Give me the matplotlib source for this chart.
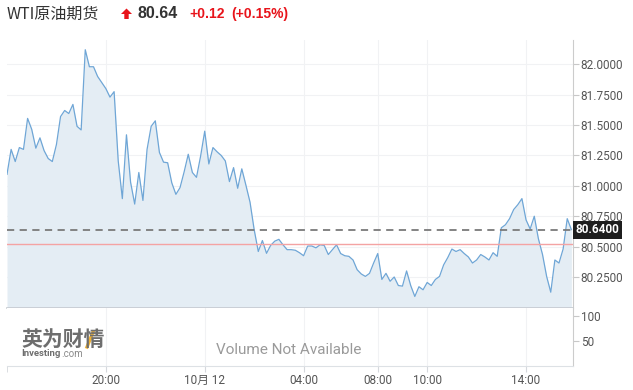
import matplotlib
matplotlib.use("Agg")
import matplotlib.pyplot as plt
import matplotlib.transforms as mtransforms
from matplotlib.patches import Polygon
from matplotlib.lines import Line2D
import numpy as np

# WTI 10-minute quotes, 16:00 -> 15:50 (trading time, 05:00-06:00 break skipped)
prices = [
    81.095, 81.30, 81.20, 81.315, 81.30, 81.555, 81.465, 81.31, 81.395, 81.29,
    81.225, 81.20, 81.34, 81.57, 81.62, 81.595, 81.67, 81.49, 81.46, 82.12,
    81.98, 81.98, 81.90, 81.85, 81.80, 81.73, 81.775, 81.205, 80.895, 81.42,
    81.03, 80.85, 81.11, 80.88, 81.30, 81.49, 81.535, 81.275, 81.195, 81.19,
    81.025, 80.93, 80.985, 81.115, 81.26, 81.11, 81.07, 81.245, 81.45, 81.18,
    81.315, 81.28, 81.25, 81.205, 81.035, 81.15, 80.98, 81.14, 81.005, 80.865,
    80.64, 80.46, 80.55, 80.445, 80.51, 80.545, 80.56, 80.515, 80.475, 80.475,
    80.47, 80.45, 80.425, 80.505, 80.505, 80.49, 80.515, 80.51, 80.435, 80.475,
    80.515, 80.443, 80.425, 80.42, 80.39, 80.31, 80.275, 80.255, 80.28, 80.365,
    80.443, 80.23, 80.28, 80.215, 80.25, 80.18, 80.175, 80.30, 80.18, 80.09,
    80.17, 80.145, 80.205, 80.18, 80.23, 80.255, 80.35, 80.41, 80.48, 80.46,
    80.475, 80.443, 80.415, 80.365, 80.39, 80.435, 80.415, 80.39, 80.45, 80.42,
    80.655, 80.68, 80.73, 80.805, 80.845, 80.895, 80.72, 80.645, 80.75, 80.565,
    80.435, 80.255, 80.125, 80.39, 80.365, 80.48, 80.73, 80.64,
]
tick_pos = [24, 48, 72, 90, 102, 126]
tick_labels = ["20:00", "10月 12", "04:00", "08:00", "10:00", "14:00"]
price_ticks = [80.25, 80.5, 80.75, 81.0, 81.25, 81.5, 81.75, 82.0]
vol_ticks = [50, 100]
last_price = 80.64
prev_close = 80.52

plt.rcParams["font.family"] = ["Roboto", "Noto Sans CJK SC", "DejaVu Sans"]

W, H = 633, 390
fig = plt.figure(figsize=(W / 100, H / 100), dpi=100)
ax = fig.add_axes([7 / W, 82 / H, 566 / W, 268 / H])
vax = fig.add_axes([7 / W, 24 / H, 566 / W, 58 / H])

x = np.arange(len(prices))
ymin, ymax = 79.995, 82.2
ax.fill_between(x, prices, ymin, color="#e4edf4", lw=0)
ax.plot(x, prices, color="#6fa6d6", lw=0.9)
ax.axhline(prev_close, color="#f4a3a3", lw=1.0)
ax.axhline(last_price, color="#7a7a7a", lw=1.3, ls=(0, (4, 3)))

ax.set_xlim(0, 137.4)
ax.set_ylim(ymin, ymax)
ax.set_xticks(tick_pos)
ax.set_yticks(price_ticks)
ax.set_yticklabels([f"{v:.4f}" for v in price_ticks])
ax.yaxis.tick_right()
ax.tick_params(axis="y", length=4, color="#c8c8c8", labelsize=8.5, labelcolor="#555555", pad=1.5)
ax.tick_params(axis="x", length=0, labelbottom=False)
ax.grid(color="#f1f2f4", lw=0.8)
ax.set_axisbelow(True)
for s in ["left", "top"]:
    ax.spines[s].set_visible(False)
ax.spines["right"].set_color("#cccccc")
ax.spines["bottom"].set_color("#c5cad0")
ax.spines["bottom"].set_linewidth(1.2)

# last price tag
tr = mtransforms.blended_transform_factory(ax.transAxes, ax.transData)
ax.text(1.0 + 3 / 566, last_price, f"{last_price:.4f}", transform=tr, ha="left", va="center",
        color="white", fontsize=8.5, fontweight="bold", clip_on=False, zorder=10,
        bbox=dict(boxstyle="square,pad=0.22", fc="#1e1e1e", ec="none"))

# volume panel
vax.set_xlim(0, 137.4)
vax.set_ylim(0, 116)
vax.set_xticks(tick_pos)
vax.set_xticklabels(tick_labels)
vax.set_xticks([0], minor=True)
vax.set_yticks(vol_ticks)
vax.yaxis.tick_right()
vax.tick_params(axis="y", length=4, color="#c8c8c8", labelsize=8.5, labelcolor="#555555", pad=1.5)
vax.tick_params(axis="x", which="both", length=4, color="#d5d8dc", labelsize=8.5,
                labelcolor="#555555", pad=2)
vax.grid(axis="x", color="#f1f2f4", lw=0.8)
for s in ["left", "top"]:
    vax.spines[s].set_visible(False)
vax.spines["right"].set_color("#cccccc")
vax.spines["bottom"].set_color("#dde1e5")
vax.text(0.498, 0.28, "Volume Not Available", transform=vax.transAxes, ha="center", va="center",
         fontsize=11, color="#9a9a9a")

# watermark
fig.text(21 / W, 1 - 339 / H, "英为财情", fontsize=15, fontweight="bold", color="#6e6e6e",
         family=["Noto Sans CJK SC"], va="center", ha="left")
fig.add_artist(Line2D([93 / W, 87 / W], [1 - 332 / H, 1 - 347 / H], color="#f2b233", lw=2.4))
fig.text(21 / W, 1 - 354 / H, "Investing", fontsize=6.8, fontweight="bold", color="#6e6e6e",
         va="center", ha="left")
fig.text(61 / W, 1 - 354 / H, ".com", fontsize=7, color="#8a8a8a", va="center", ha="left")

# header
fig.text(7 / W, 1 - 14 / H, "WTI原油期货", fontsize=11.5, color="#333333", va="center", ha="left",
         family=["Noto Sans CJK SC", "DejaVu Sans"])
arrow = [(121, 14), (126.5, 8.5), (132, 14), (128.7, 14), (128.7, 19), (124.3, 19), (124.3, 14)]
fig.patches.append(Polygon([(px / W, 1 - py / H) for px, py in arrow], closed=True,
                           transform=fig.transFigure, fc="#e8141b", ec="none"))
fig.text(137 / W, 1 - 14 / H, f"{last_price:.2f}", fontsize=11.5, fontweight="bold", color="#333333",
         va="center", ha="left", family=["Liberation Sans"])
fig.text(189 / W, 1 - 14 / H, "+0.12", fontsize=10, fontweight="bold", color="#e8141b",
         va="center", ha="left", family=["Liberation Sans"])
fig.text(231 / W, 1 - 14 / H, "(+0.15%)", fontsize=10, fontweight="bold", color="#e8141b",
         va="center", ha="left", family=["Liberation Sans"])

fig.savefig("out.png", dpi=100, facecolor="white")
